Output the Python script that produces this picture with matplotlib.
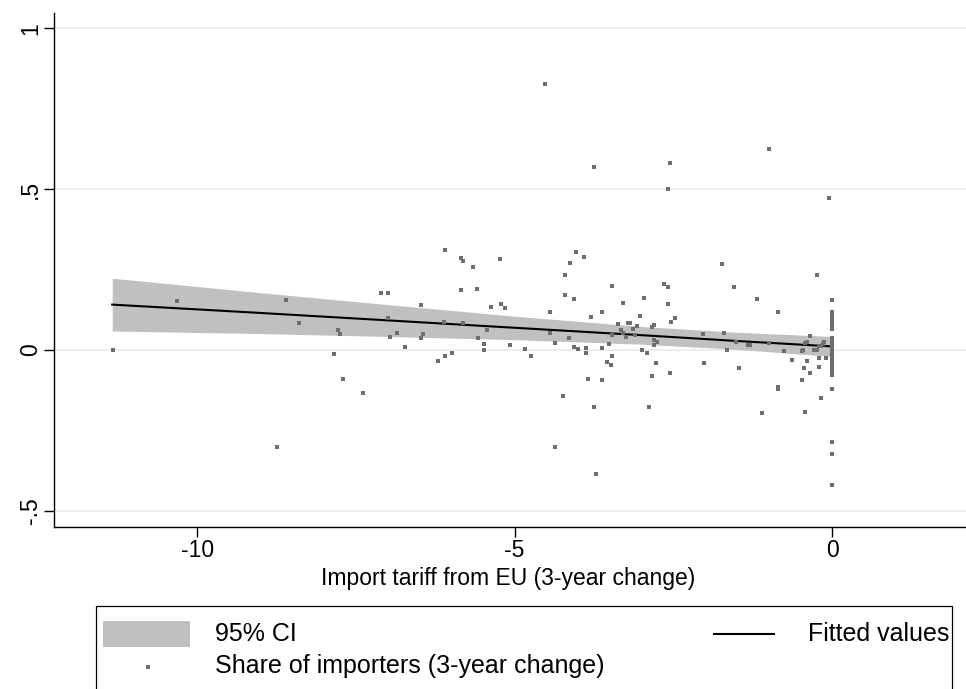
import matplotlib
matplotlib.use("Agg")
import matplotlib.pyplot as plt
from matplotlib.patches import Rectangle
from matplotlib.lines import Line2D

plt.rcParams['font.family'] = ['Liberation Sans', 'DejaVu Sans']

# ---- data ----
tariff_change = [
    -11.33, -10.32, -8.61, -8.40, -7.78, -7.75, -7.85, -7.70, -7.39, -8.75,
    -4.515, -3.743, -6.09, -5.85, -5.82, -5.66, -5.23, -4.04, -3.90, -4.13,
    -4.20, -3.46, -7.10, -7.00, -5.85, -5.59, -4.20, -4.07, -2.96,
    -6.48, -7.00, -6.85, -6.96, -6.72, -6.44, -6.47, -6.12, -6.20, -6.09,
    -5.98, -5.81, -5.38, -5.21, -5.16, -5.44, -5.57, -5.48, -5.49, -5.07,
    -4.83, -4.74, -4.44, -4.44, -4.36, -4.14, -4.06, -4.01, -3.88, -3.88,
    -4.24, -3.85, -3.62, -3.75, -4.36, -3.72, -3.79, -3.62, -3.29, -3.03,
    -3.37, -3.22, -3.19, -3.32, -3.46, -3.29, -3.24, -3.13, -3.07, -3.11,
    -3.51, -3.62, -3.46, -3.55, -3.49, -2.99, -2.92, -2.83, -2.80, -2.80,
    -2.75, -2.80, -2.77, -2.83, -2.88,
    -0.987, -2.55, -2.58, -0.047, -1.74, -0.23, -2.64, -2.58, -1.54, -1.18, 0.0,
    -2.58, -0.85, -2.47, -2.53, -2.04, -1.71, -1.51, -1.65, -1.33, -1.29,
    -1.00, -0.75, -0.34, -0.42, -0.39, -0.47, -0.45, -0.28, -0.23, -0.20,
    -0.14, -0.12, -0.17, -0.63, -0.39, -0.20, -0.09, -2.01, -1.46, -2.56,
    -0.44, -0.34, -0.20, -0.47, -0.85, -0.85, -0.17, -1.10, -0.42,
    0.0, 0.0, 0.0, 0.0, 0.0, 0.0, 0.0, 0.0, 0.0, 0.0, 0.0, 0.0,
    0.0, 0.0, 0.0, 0.0, 0.0, 0.0, 0.0, 0.0, 0.0, 0.0, 0.0,
]
importer_share_change = [
    0.000, 0.151, 0.154, 0.084, 0.062, 0.050, -0.013, -0.090, -0.134, -0.302,
    0.825, 0.570, 0.310, 0.285, 0.275, 0.257, 0.282, 0.303, 0.289, 0.269,
    0.232, 0.199, 0.176, 0.176, 0.186, 0.191, 0.170, 0.157, 0.161,
    0.140, 0.098, 0.052, 0.039, 0.009, 0.050, 0.036, 0.086, -0.035, -0.020,
    -0.009, 0.083, 0.133, 0.143, 0.129, 0.062, 0.036, 0.019, -0.001, 0.015,
    0.003, -0.020, 0.117, 0.052, 0.021, 0.036, 0.009, 0.002, 0.005, -0.010,
    -0.143, -0.091, -0.094, -0.178, -0.302, -0.386, 0.101, 0.117, 0.145, 0.106,
    0.080, 0.083, 0.083, 0.062, 0.046, 0.052, 0.041, 0.064, 0.074, 0.046,
    0.018, 0.005, -0.020, -0.037, -0.048, -0.001, -0.010, 0.070, 0.077, 0.030,
    0.024, 0.015, -0.041, -0.082, -0.178,
    0.626, 0.580, 0.499, 0.471, 0.266, 0.232, 0.204, 0.195, 0.195, 0.159, 0.155,
    0.142, 0.117, 0.098, 0.086, 0.049, 0.052, 0.024, -0.001, 0.015, 0.015,
    0.021, -0.004, 0.043, 0.021, 0.024, -0.004, -0.001, -0.001, -0.001, 0.011,
    0.018, 0.024, 0.011, -0.032, -0.035, -0.026, -0.026, -0.040, -0.057, -0.072,
    -0.057, -0.072, -0.054, -0.094, -0.116, -0.122, -0.150, -0.196, -0.193,
    0.117, 0.109, 0.100, 0.092, 0.083, 0.072, 0.064, 0.036, 0.026, 0.018, 0.005, -0.003,
    -0.012, -0.023, -0.033, -0.043, -0.054, -0.064, -0.077, -0.122, -0.287, -0.324, -0.420,
]

# fitted line and 95% CI band
fit_x = [-11.34, -9.0, -7.0, -5.0, -3.0, -1.5, 0.0]
fit_y = [0.141, 0.115, 0.092, 0.069, 0.046, 0.028, 0.011]
ci_lo = [0.059, 0.051, 0.042, 0.032, 0.018, 0.002, -0.020]
ci_hi = [0.223, 0.178, 0.141, 0.105, 0.073, 0.055, 0.042]

x_ticks = [-10, -5, 0]
x_ticklabels = ['-10', '-5', '0']
y_ticks = [-0.5, 0, 0.5, 1]
y_ticklabels = ['-.5', '0', '.5', '1']

W, H = 966, 689
fig = plt.figure(figsize=(W / 100, H / 100), dpi=100)
fig.patch.set_facecolor('white')

ax_l, ax_r, ax_t, ax_b = 53.8, 966, 13, 527
ax = fig.add_axes([ax_l / W, 1 - ax_b / H, (ax_r - ax_l) / W, (ax_b - ax_t) / H])
ax.set_xlim(-12.26, 2.11)
ax.set_ylim(-0.55, 1.047)

for yt in y_ticks:
    ax.axhline(yt, color='#e8e8e8', lw=1.1, zorder=0)

ax.fill_between(fit_x, ci_lo, ci_hi, color='#c0c0c0', lw=0, zorder=1)
ax.plot(fit_x, fit_y, color='black', lw=1.5, zorder=2)
ax.scatter(tariff_change, importer_share_change, marker='s', s=11,
           color='#6e6e6e', linewidths=0, zorder=3)

for side in ['top', 'right']:
    ax.spines[side].set_visible(False)
for side in ['left', 'bottom']:
    ax.spines[side].set_linewidth(1.0)
    ax.spines[side].set_color('black')

FS = 16.5
ax.set_xticks(x_ticks)
ax.set_xticklabels(x_ticklabels)
ax.set_yticks(y_ticks)
ax.set_yticklabels(y_ticklabels, rotation=90, va='center')
ax.tick_params(axis='both', direction='out', length=7.0, width=1.0,
               labelsize=FS, color='black', pad=1.5)
ax.set_xlabel('Import tariff from EU (3-year change)', fontsize=FS)
ax.xaxis.set_label_coords((508 - ax_l) / (ax_r - ax_l), -(578 - ax_b) / (ax_b - ax_t))
ax.xaxis.label.set_va('center')


def fx(px):
    return px / W


def fy(py):
    return 1 - py / H


LFS = 18
# legend (drawn manually, box clipped at the bottom like the original)
fig.patches.append(Rectangle((fx(96), fy(705)), fx(952) - fx(96), fy(606) - fy(705),
                             transform=fig.transFigure, fill=False,
                             edgecolor='black', lw=0.9))
fig.patches.append(Rectangle((fx(103), fy(647)), fx(190) - fx(103), fy(621) - fy(647),
                             transform=fig.transFigure, facecolor='#c0c0c0',
                             edgecolor='none'))
fig.text(fx(215), fy(634), '95% CI', fontsize=LFS, va='center', ha='left')
fig.lines.append(Line2D([fx(714), fx(774)], [fy(634), fy(634)],
                        transform=fig.transFigure, color='black', lw=1.5))
fig.text(fx(949), fy(634), 'Fitted values', fontsize=LFS, va='center', ha='right')
fig.lines.append(Line2D([fx(148)], [fy(667)], transform=fig.transFigure,
                        marker='s', markersize=3.3, color='#6e6e6e', lw=0,
                        markeredgewidth=0))
fig.text(fx(215), fy(666), 'Share of importers (3-year change)', fontsize=LFS,
         va='center', ha='left')

fig.savefig('out.png', dpi=100)
